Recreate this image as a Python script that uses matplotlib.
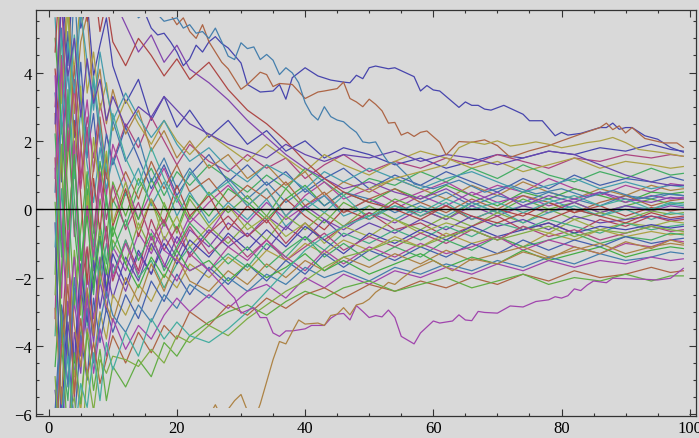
import colorsys
import numpy as np
import matplotlib
matplotlib.use("Agg")
import matplotlib.pyplot as plt
from matplotlib.patches import Rectangle
from matplotlib.ticker import MultipleLocator

# shared sample positions for the bundle of walks
steps = [1, 2, 3, 4, 5, 6, 7, 8, 9, 10, 12, 14, 16, 18, 20, 22, 25, 28,
         31, 34, 37, 40, 43, 46, 50, 54, 58, 62, 66, 70, 74, 78, 82, 86, 90, 94, 97, 99]

# bundle walks, values (one per step above)
b01 = [9.1, 6.8, 4.2, 7.5, 5.3, 6.1, 3.9, 4.8, 5.6, 4.2, 3.1, 3.8, 2.6, 3.3, 2.4, 2.9, 2.1, 2.6, 1.9, 2.3, 1.7, 2.0, 1.5, 1.8, 1.6, 1.3, 1.5, 1.2, 1.4, 1.6, 1.5, 1.7, 1.6, 1.8, 1.7, 1.9, 1.75, 1.7]
b02 = [-3.2, 4.5, 1.8, 3.6, 0.9, 2.7, 1.5, 3.1, 2.2, 1.4, 2.5, 1.8, 2.7, 2.0, 1.3, 1.9, 1.4, 1.1, 1.6, 1.2, 1.5, 0.9, 1.3, 1.6, 1.1, 1.4, 1.2, 1.5, 1.3, 1.6, 1.4, 1.2, 1.5, 1.4, 1.6, 1.5, 1.6, 1.55]
b03 = [6.3, 8.0, 5.5, 4.1, 6.2, 3.4, 4.6, 2.9, 3.7, 2.3, 3.2, 2.5, 1.9, 2.6, 2.0, 1.6, 2.2, 1.8, 1.4, 1.9, 1.5, 1.1, 1.6, 1.3, 1.0, 1.4, 1.7, 1.5, 1.2, 1.4, 1.1, 1.3, 1.5, 1.2, 1.4, 1.3, 1.2, 1.25]
b04 = [-7.5, -4.1, -5.6, -2.3, -3.8, -1.2, -2.5, -0.4, -1.6, 0.3, -0.5, 0.6, 1.2, 0.4, 1.1, 0.7, 1.3, 0.9, 0.5, 1.0, 0.6, 1.2, 0.8, 0.4, 0.9, 0.7, 1.1, 0.8, 1.2, 0.9, 1.3, 1.0, 0.8, 1.1, 0.9, 1.2, 1.0, 1.05]
b05 = [3.4, 0.8, 5.2, 2.1, 4.3, 1.6, 2.8, 0.7, 2.2, 1.3, 2.4, 1.5, 0.6, 1.3, 0.4, 1.0, 1.6, 0.8, 1.3, 0.7, 1.1, 0.5, 0.9, 1.2, 0.6, 1.0, 0.7, 1.1, 0.8, 0.5, 0.9, 0.6, 1.0, 0.7, 0.9, 0.8, 0.95, 0.85]
b06 = [1.2, -2.6, 2.9, -0.8, 1.7, 3.2, 1.1, 2.5, 0.4, 1.9, 0.8, -0.3, 0.5, 1.2, 0.3, -0.4, 0.2, 0.7, 0.1, 0.6, -0.2, 0.4, 0.8, 0.3, 0.6, 0.2, 0.5, 0.8, 0.4, 0.7, 0.5, 0.9, 0.6, 0.4, 0.7, 0.5, 0.75, 0.7]
b07 = [7.8, 3.6, 6.4, 2.8, 4.9, 5.7, 3.2, 4.1, 2.5, 3.5, 2.2, 2.9, 1.7, 2.3, 1.5, 2.0, 1.2, 1.6, 0.9, 1.3, 0.7, 1.1, 0.4, 0.8, 0.5, 0.9, 0.6, 0.3, 0.7, 0.4, 0.8, 0.5, 0.3, 0.6, 0.4, 0.7, 0.55, 0.6]
b08 = [-4.6, -1.8, 2.3, -0.5, -2.4, 0.6, -1.1, 1.4, 0.2, -0.8, 0.5, -0.3, 0.9, 0.1, -0.6, 0.4, -0.2, 0.6, 0.2, -0.3, 0.3, 0.7, 0.1, 0.5, 0.2, 0.6, 0.3, 0.7, 0.4, 0.1, 0.5, 0.3, 0.6, 0.4, 0.2, 0.5, 0.45, 0.5]
b09 = [0.5, 5.3, 2.4, 6.6, 3.1, 1.5, 3.8, 2.0, 0.9, 2.6, 1.4, 2.1, 0.8, 1.5, 0.6, 1.2, 0.4, 0.9, 0.3, 0.8, 0.2, 0.6, 0.1, 0.5, 0.3, -0.1, 0.2, 0.5, 0.1, 0.4, 0.2, 0.5, 0.3, 0.1, 0.4, 0.3, 0.45, 0.4]
b10 = [-6.8, -3.5, -5.1, -2.7, -4.3, -1.9, -3.2, -1.4, -2.6, -1.1, -1.8, -0.7, -1.3, -0.4, -1.0, -0.2, -0.7, 0.1, -0.4, 0.2, -0.3, 0.1, 0.4, -0.1, 0.3, 0.0, 0.4, 0.1, 0.5, 0.2, 0.4, 0.1, 0.3, 0.5, 0.2, 0.4, 0.3, 0.35]
b11 = [2.8, -0.9, 1.6, 4.2, 1.9, -0.3, 1.2, 2.7, 1.0, 0.2, 1.1, 0.3, 1.4, 0.6, 1.3, 0.5, 0.9, 0.2, 0.7, 0.3, 0.8, 0.1, 0.5, -0.1, 0.3, 0.6, 0.2, -0.1, 0.3, 0.0, 0.4, 0.2, -0.1, 0.2, 0.4, 0.1, 0.25, 0.3]
b12 = [-1.9, 3.7, 0.4, -2.8, -0.6, 1.1, -1.5, 0.3, -0.9, 0.8, -0.2, 0.9, 0.2, -0.5, 0.4, -0.3, 0.5, -0.1, 0.4, -0.2, 0.6, 0.0, -0.4, 0.2, -0.2, 0.3, 0.0, -0.3, 0.2, -0.1, 0.3, 0.0, 0.2, -0.1, 0.1, 0.3, 0.15, 0.2]
b13 = [5.6, 2.2, 4.0, 0.9, 2.9, 1.3, 0.2, 1.8, 0.6, 1.5, 0.4, 1.2, 0.1, 0.8, -0.2, 0.5, -0.4, 0.2, -0.3, 0.3, -0.5, 0.0, 0.4, -0.2, 0.1, -0.3, 0.1, -0.2, 0.2, -0.1, 0.1, 0.3, 0.0, -0.2, 0.1, 0.0, 0.15, 0.1]
b14 = [-8.4, -5.2, -6.9, -3.6, -4.8, -2.4, -3.9, -2.1, -3.0, -1.6, -2.4, -1.3, -1.9, -0.8, -1.4, -0.6, -1.1, -0.4, -0.8, -0.2, -0.6, 0.1, -0.3, -0.6, -0.1, -0.4, 0.0, -0.3, 0.1, -0.2, 0.1, -0.1, 0.2, -0.1, 0.1, -0.05, 0.1, 0.05]
b15 = [4.1, 1.3, -1.8, 2.6, 0.4, -2.2, 0.9, -0.7, 1.6, -0.5, 0.6, -0.8, 0.3, -0.4, 0.7, -0.2, 0.4, -0.6, 0.1, -0.4, 0.3, -0.2, -0.6, 0.0, -0.3, 0.2, -0.2, 0.1, -0.3, 0.0, -0.2, 0.2, -0.1, 0.1, -0.2, 0.05, -0.05, 0.0]
b16 = [-2.5, 1.9, -4.4, -1.2, -3.1, 0.4, -1.8, -0.6, -2.3, -0.9, -1.6, -0.4, -1.2, 0.2, -0.7, 0.3, -0.5, -1.0, -0.4, -0.9, -0.2, -0.6, -0.1, -0.5, 0.1, -0.3, -0.6, -0.2, -0.5, -0.1, -0.4, 0.0, -0.3, -0.1, -0.3, -0.05, -0.15, -0.1]
b17 = [6.9, 4.8, 2.5, 5.1, 3.3, 1.7, 3.9, 2.4, 1.1, 2.8, 1.5, 0.7, 1.8, 0.9, 0.2, 1.1, 0.4, 0.8, 0.1, 0.6, -0.2, 0.3, -0.1, 0.4, -0.3, 0.1, -0.2, 0.2, -0.3, 0.0, -0.4, -0.1, 0.1, -0.2, 0.0, -0.3, -0.1, -0.15]
b18 = [-5.3, -7.1, -3.3, -4.9, -2.2, -3.8, -1.5, -2.9, -1.8, -2.6, -1.4, -2.1, -1.0, -1.7, -0.8, -1.3, -0.6, -1.1, -0.7, -1.2, -0.5, -0.9, -0.3, -0.8, -0.4, -0.7, -0.3, -0.6, -0.2, -0.5, -0.3, -0.6, -0.2, -0.4, -0.3, -0.2, -0.3, -0.25]
b19 = [1.5, -3.9, -0.8, -5.5, -2.4, -1.1, -3.6, -1.7, -0.5, -2.1, -0.9, -1.8, -0.3, -1.2, -0.5, -1.4, -0.7, -0.2, -0.8, -0.3, -1.0, -0.4, -0.9, -0.5, -0.1, -0.6, -0.4, -0.8, -0.5, -0.2, -0.6, -0.4, -0.7, -0.3, -0.5, -0.2, -0.35, -0.3]
b20 = [8.7, 3.1, 5.9, 1.4, 3.6, -0.2, 2.1, 0.5, 1.7, -0.4, 0.8, -0.6, 0.3, -0.9, -0.2, -1.1, -0.5, 0.1, -0.6, -0.2, -0.8, -0.4, -1.0, -0.5, -0.8, -0.3, -0.7, -0.4, -0.6, -0.9, -0.5, -0.7, -0.3, -0.6, -0.4, -0.5, -0.35, -0.4]
b21 = [-3.7, 0.6, -2.0, 1.3, -1.2, -3.4, -0.9, -2.2, -1.0, -1.9, -0.9, -2.0, -1.5, -2.3, -1.6, -1.1, -1.8, -1.3, -1.7, -1.0, -1.4, -0.8, -1.2, -0.7, -1.0, -0.6, -0.9, -0.5, -0.8, -0.4, -0.6, -0.3, -0.5, -0.7, -0.4, -0.6, -0.5, -0.45]
b22 = [-0.4, -6.2, -2.7, -4.5, -1.6, -3.3, -2.0, -0.8, -2.4, -1.3, -2.2, -1.2, -1.9, -1.0, -1.6, -0.9, -1.4, -0.7, -1.2, -0.6, -1.1, -0.5, -0.9, -1.3, -0.7, -1.0, -0.6, -0.9, -0.5, -0.8, -0.6, -0.4, -0.7, -0.5, -0.6, -0.45, -0.55, -0.5]
b23 = [3.0, 6.3, 1.7, 3.8, 0.6, 2.4, -0.7, 1.1, -0.3, 0.7, -0.6, 0.2, -0.9, -0.3, -1.2, -0.5, -1.3, -0.8, -1.4, -0.9, -1.5, -1.1, -0.7, -1.2, -0.8, -1.1, -0.7, -1.0, -0.6, -0.9, -0.5, -0.8, -0.6, -0.9, -0.7, -0.5, -0.65, -0.6]
b24 = [-9.1, -6.5, -7.8, -4.7, -5.9, -3.5, -4.4, -3.0, -3.8, -2.5, -3.1, -2.2, -2.7, -1.9, -2.3, -1.6, -2.0, -1.4, -1.8, -1.2, -1.5, -1.0, -1.3, -0.9, -1.2, -0.8, -1.1, -0.7, -1.0, -0.8, -1.1, -0.7, -0.9, -0.6, -0.8, -0.65, -0.75, -0.7]
b25 = [2.2, -1.4, 3.5, 0.3, -2.1, 1.0, -0.6, -1.9, 0.4, -1.2, -0.3, -1.5, -0.7, -1.8, -1.1, -0.4, -1.0, -1.6, -1.1, -1.7, -1.2, -0.8, -1.4, -1.0, -1.5, -1.1, -1.4, -0.9, -1.2, -0.8, -1.1, -0.9, -0.7, -1.0, -0.8, -0.9, -0.7, -0.75]
b26 = [-5.9, -2.8, -4.1, -6.3, -3.7, -5.0, -2.6, -3.9, -2.9, -3.6, -2.5, -3.2, -2.1, -2.7, -1.9, -2.5, -1.7, -2.2, -1.6, -2.1, -1.5, -1.9, -1.3, -1.7, -1.2, -1.5, -1.1, -1.4, -1.0, -1.3, -0.9, -1.2, -0.9, -1.1, -0.8, -1.0, -0.9, -0.85]
b27 = [0.9, 4.4, -1.1, 2.0, -2.5, 0.1, -1.4, 0.8, -0.9, -2.0, -1.0, -1.9, -0.8, -1.6, -2.1, -1.3, -1.8, -1.1, -1.5, -0.9, -1.4, -1.8, -1.2, -1.6, -1.1, -1.4, -1.0, -1.3, -1.1, -0.8, -1.2, -0.9, -1.1, -1.3, -1.0, -1.1, -0.9, -0.95]
b28 = [-2.9, -5.7, -1.3, -3.4, -4.6, -2.3, -3.7, -1.8, -2.8, -3.3, -2.0, -2.7, -1.6, -2.4, -1.4, -2.1, -2.4, -1.8, -2.2, -1.6, -2.0, -1.5, -1.8, -1.4, -1.7, -1.3, -1.6, -1.2, -1.5, -1.3, -1.1, -1.4, -1.2, -1.0, -1.3, -1.1, -1.0, -1.05]
b29 = [5.0, 2.5, -0.6, 1.6, -1.5, -0.2, -2.3, -0.8, -1.9, -0.5, -1.6, -2.3, -1.4, -2.0, -1.2, -1.8, -1.5, -2.1, -1.6, -2.0, -1.7, -1.3, -1.8, -1.5, -1.9, -1.6, -1.3, -1.7, -1.4, -1.6, -1.2, -1.5, -1.3, -1.1, -1.4, -1.2, -1.1, -1.15]
b30 = [-6.4, -3.0, -5.2, -2.0, -4.0, -2.9, -4.5, -3.3, -2.4, -3.1, -3.6, -2.8, -3.3, -2.5, -2.9, -2.2, -2.6, -2.0, -2.4, -1.9, -2.2, -1.7, -2.0, -1.8, -2.1, -1.7, -1.9, -1.6, -1.8, -1.5, -1.7, -1.4, -1.6, -1.3, -1.5, -1.4, -1.25, -1.3]
b31 = [3.9, -0.7, -3.1, -1.4, -4.2, -2.6, -4.8, -3.5, -4.3, -3.2, -4.1, -3.4, -3.8, -3.1, -2.6, -3.0, -2.5, -2.9, -2.4, -2.2, -2.6, -2.0, -2.3, -1.9, -2.2, -1.8, -2.0, -1.7, -1.9, -1.6, -1.8, -1.5, -1.7, -1.5, -1.6, -1.4, -1.5, -1.45]
b32 = [-7.3, -4.0, -2.2, -5.4, -3.2, -4.9, -3.9, -5.1, -4.4, -3.7, -4.5, -3.6, -4.2, -3.4, -3.8, -3.0, -3.4, -2.8, -3.1, -2.6, -2.9, -2.5, -2.3, -2.6, -2.2, -2.4, -2.1, -2.3, -2.0, -2.2, -1.9, -2.1, -1.8, -2.0, -1.9, -1.7, -1.85, -1.8]
b33 = [0.2, -3.3, -7.0, -4.2, -5.7, -3.6, -5.3, -4.1, -5.6, -4.6, -5.2, -4.4, -4.9, -3.9, -4.3, -3.7, -3.3, -3.0, -2.8, -3.1, -2.7, -2.4, -2.6, -2.3, -2.1, -2.4, -2.2, -2.0, -2.3, -2.1, -1.9, -2.2, -2.0, -2.1, -1.9, -2.1, -1.95, -1.95]
b34 = [-1.1, 2.7, 4.9, 3.4, 5.8, 4.3, 2.9, 4.6, 3.5, 2.6, 3.4, 2.7, 2.1, 2.6, 1.9, 1.4, 1.8, 1.2, 0.8, 1.3, 1.0, 0.6, 1.1, 0.8, 1.2, 0.9, 0.6, 0.9, 1.1, 0.8, 0.5, 0.7, 0.9, 0.6, 0.8, 0.6, 0.7, 0.65]
b35 = [6.8, 9.0, 7.1, 8.2, 6.0, 7.3, 5.8, 6.6, 5.9, 6.2, 5.4, 4.6, 5.1, 4.3, 4.8, 4.1, 3.7, 3.2, 2.6, 2.1, 1.6, 1.2, 0.9, 0.6, 0.8, 0.5, 0.3, 0.6, 0.2, 0.5, 0.1, 0.4, 0.2, 0.5, 0.3, 0.2, 0.35, 0.3]
b36 = [4.6, 7.7, 9.5, 6.4, 7.9, 5.5, 6.8, 5.2, 6.1, 4.9, 4.2, 5.0, 4.5, 3.9, 4.4, 3.8, 4.3, 3.5, 2.9, 2.5, 2.0, 1.4, 0.9, 0.5, 0.2, 0.0, -0.3, 0.1, -0.2, -0.4, -0.1, -0.3, 0.0, -0.2, -0.4, -0.1, -0.25, -0.2]
b37 = [-4.9, -8.0, -6.1, -5.5, -7.4, -4.7, -5.9, -4.4, -4.8, -4.3, -4.4, -4.6, -4.1, -4.5, -3.7, -3.9, -3.4, -3.7, -3.2, -2.8, -2.4, -2.1, -1.7, -1.4, -1.2, -0.9, -1.1, -0.8, -0.6, -0.9, -0.7, -0.5, -0.8, -0.6, -0.7, -0.5, -0.6, -0.65]
b38 = [-8.8, -6.0, -4.3, -6.7, -5.1, -5.8, -4.2, -5.6, -3.9, -4.7, -3.6, -4.3, -3.2, -3.8, -3.3, -3.7, -3.9, -3.5, -3.0, -2.4, -1.8, -1.2, -0.8, -0.5, -0.2, 0.1, -0.1, 0.3, 0.0, 0.2, -0.1, 0.2, 0.4, 0.1, 0.3, 0.0, 0.2, 0.15]
b39 = [2.5, 6.1, 3.9, 5.0, 2.7, 4.4, 3.1, 3.8, 2.6, 3.3, 2.4, 3.0, 2.7, 3.3, 2.9, 2.5, 2.2, 1.9, 1.7, 1.5, 1.9, 1.6, 1.4, 1.6, 1.5, 1.7, 1.4, 1.6, 1.5, 1.3, 1.5, 1.7, 1.6, 1.3, 1.0, 0.8, 0.7, 0.7]

# the stand-out walks, traced point by point
top_blue_x = [14, 16, 17, 18, 19, 20, 21, 22, 23, 24, 25, 26, 27, 28, 30, 31, 33, 35, 36, 37, 38, 40, 42, 44, 46, 47, 48, 49, 50, 51, 53, 54, 57, 58, 59, 60, 61, 64, 65, 66, 67, 68, 69, 71, 74, 75, 77, 79, 80, 81, 83, 86, 87, 88, 89, 90, 91, 93, 95, 97, 99]
top_blue_y = [6.2, 5.3, 5.1, 5.15, 4.9, 4.6, 4.2, 4.4, 4.8, 4.6, 4.9, 5.05, 4.85, 4.72, 4.28, 3.65, 3.43, 3.46, 3.65, 3.22, 3.85, 4.14, 3.9, 3.78, 3.72, 3.7, 3.92, 3.82, 4.14, 4.19, 4.11, 4.14, 3.88, 3.46, 3.62, 3.49, 3.46, 2.98, 3.14, 3.04, 3.04, 2.93, 2.9, 3.04, 2.78, 2.59, 2.59, 2.15, 2.25, 2.17, 2.22, 2.39, 2.39, 2.52, 2.34, 2.39, 2.39, 2.15, 2.05, 1.81, 1.67]
red_x = [18, 19, 20, 21, 22, 23, 24, 25, 26, 27, 28, 30, 31, 33, 34, 35, 36, 38, 40, 42, 43, 45, 46, 47, 48, 49, 50, 51, 52, 53, 54, 55, 56, 57, 58, 59, 61, 62, 64, 66, 68, 70, 72, 75, 78, 80, 83, 86, 87, 88, 89, 90, 91, 93, 96, 98, 99]
red_y = [6.1, 5.7, 5.4, 5.6, 5.2, 5.0, 5.4, 4.9, 4.6, 4.3, 4.11, 3.51, 3.65, 4.01, 3.94, 3.59, 3.68, 3.65, 3.24, 3.43, 3.46, 3.53, 3.72, 3.24, 3.14, 3.0, 3.22, 3.07, 2.88, 2.52, 2.54, 2.17, 2.25, 2.13, 2.25, 2.29, 1.96, 1.59, 1.98, 1.96, 2.03, 1.86, 1.52, 1.71, 1.86, 2.0, 2.2, 2.39, 2.52, 2.33, 2.44, 2.23, 2.39, 2.07, 1.94, 1.94, 1.81]
teal_x = [12, 14, 16, 18, 20, 21, 22, 23, 24, 25, 26, 27, 28, 29, 30, 31, 32, 33, 34, 35, 36, 37, 38, 39, 40, 41, 42, 43, 44, 45, 46, 47, 48, 49, 50, 51, 52, 53, 54, 56, 57, 60, 64, 68, 72, 76, 80, 84, 88, 92, 96, 99]
teal_y = [6.3, 5.6, 5.9, 5.5, 5.6, 5.3, 5.4, 5.15, 5.2, 5.0, 5.3, 4.9, 4.48, 4.38, 4.87, 4.7, 4.75, 4.38, 4.53, 4.36, 3.94, 4.14, 3.99, 3.7, 3.12, 2.78, 2.61, 3.0, 2.71, 2.61, 2.56, 2.39, 2.25, 1.97, 1.94, 1.97, 1.64, 1.37, 1.35, 0.98, 0.74, 0.6, 0.85, 0.5, 0.7, 0.45, 0.6, 0.35, 0.55, 0.3, 0.45, 0.4]
purple_x = [16, 18, 20, 22, 24, 26, 27, 28, 29, 30, 32, 33, 34, 35, 36, 37, 38, 40, 41, 43, 44, 45, 46, 47, 48, 49, 50, 51, 52, 53, 54, 55, 57, 58, 60, 61, 63, 64, 65, 66, 67, 68, 70, 72, 74, 76, 78, 79, 80, 81, 82, 83, 84, 85, 87, 88, 91, 93, 95, 97, 98, 99]
purple_y = [-0.6, -1.2, -1.5, -1.8, -1.6, -2.0, -2.2, -2.41, -2.6, -3.04, -2.88, -3.17, -3.17, -3.62, -3.72, -3.56, -3.56, -3.5, -3.4, -3.4, -3.19, -3.07, -3.05, -3.24, -2.82, -2.99, -3.17, -3.11, -3.15, -2.95, -3.17, -3.72, -3.94, -3.62, -3.27, -3.33, -3.27, -3.09, -3.24, -3.26, -2.99, -3.02, -3.04, -2.83, -2.86, -2.7, -2.65, -2.56, -2.6, -2.53, -2.33, -2.38, -2.22, -2.1, -2.15, -2.02, -2.04, -2.05, -2.07, -2.02, -1.88, -1.73]
brown_x = [22, 24, 26, 27, 28, 29, 30, 31, 32, 33, 34, 35, 36, 37, 38, 39, 40, 42, 43, 44, 45, 46, 47, 48, 49, 50, 51, 52, 53, 54, 55, 57, 60, 63, 66, 70, 74, 78, 82, 86, 90, 94, 97, 99]
brown_y = [-6.8, -6.4, -5.72, -6.1, -5.85, -5.6, -5.42, -5.9, -6.2, -5.7, -5.05, -4.4, -3.87, -3.94, -3.58, -3.24, -3.36, -3.33, -3.4, -3.11, -3.07, -2.88, -3.09, -2.8, -2.75, -2.63, -2.43, -2.3, -2.14, -2.2, -2.04, -1.75, -1.5, -1.8, -1.45, -1.6, -1.25, -1.45, -1.1, -1.3, -0.95, -1.15, -0.9, -1.0]
tan_x = [50, 54, 58, 62, 64, 66, 68, 70, 72, 74, 76, 78, 80, 82, 84, 86, 88, 90, 92, 94, 96, 99]
tan_y = [0.6, 0.9, 1.1, 1.3, 1.8, 1.97, 1.9, 2.0, 1.85, 1.9, 1.97, 1.9, 1.8, 1.87, 1.95, 2.0, 2.1, 1.95, 1.75, 1.7, 1.65, 1.55]

bundle = [b01, b02, b03, b04, b05, b06, b07, b08, b09, b10, b11, b12, b13,
          b14, b15, b16, b17, b18, b19, b20, b21, b22, b23, b24, b25, b26,
          b27, b28, b29, b30, b31, b32, b33, b34, b35, b36, b37, b38, b39]


def mma_color(k):
    h = (0.67 + 0.238068 * k) % 1.0
    return colorsys.hsv_to_rgb(h, 0.6, 0.68)


bg = "#d9d9d9"
fig = plt.figure(figsize=(6.99, 4.39), dpi=100, facecolor=bg)
ax = fig.add_axes([36 / 699, 1 - 417 / 439, 660 / 699, 406 / 439])
ax.set_facecolor(bg)

clip = Rectangle((-5, -5.82), 110, 11.44, transform=ax.transData,
                 facecolor="none", edgecolor="none")

lines = []
for k, ys in enumerate(bundle):
    ln, = ax.plot(steps, ys, color=mma_color(k), lw=0.9)
    lines.append(ln)

special = [(top_blue_x, top_blue_y, mma_color(0)),
           (red_x, red_y, mma_color(10)),
           (teal_x, teal_y, mma_color(8)),
           (purple_x, purple_y, mma_color(9)),
           (brown_x, brown_y, mma_color(6)),
           (tan_x, tan_y, mma_color(2))]
for xs, ys, c in special:
    ln, = ax.plot(xs, ys, color=c, lw=0.9)
    lines.append(ln)

for ln in lines:
    ln.set_clip_path(clip)

ax.axhline(0, color="black", lw=1.0, zorder=5)

ax.set_xlim(-1.98, 100.98)
ax.set_ylim(-6.05, 5.83)

ax.xaxis.set_major_locator(MultipleLocator(20))
ax.xaxis.set_minor_locator(MultipleLocator(5))
ax.yaxis.set_major_locator(MultipleLocator(2))
ax.yaxis.set_minor_locator(MultipleLocator(0.5))
ax.tick_params(which="both", direction="in", top=True, right=True,
               width=0.8, color="#333333")
ax.tick_params(which="major", length=5, labelsize=12, pad=3)
ax.tick_params(which="minor", length=2.5)
ax.tick_params(axis="x", labeltop=False)
ax.tick_params(axis="y", labelright=False)

for lab in ax.get_xticklabels() + ax.get_yticklabels():
    lab.set_fontfamily("Liberation Serif")

for sp in ax.spines.values():
    sp.set_color("#333333")
    sp.set_linewidth(0.9)

fig.savefig("out.png", dpi=100, facecolor=bg)
